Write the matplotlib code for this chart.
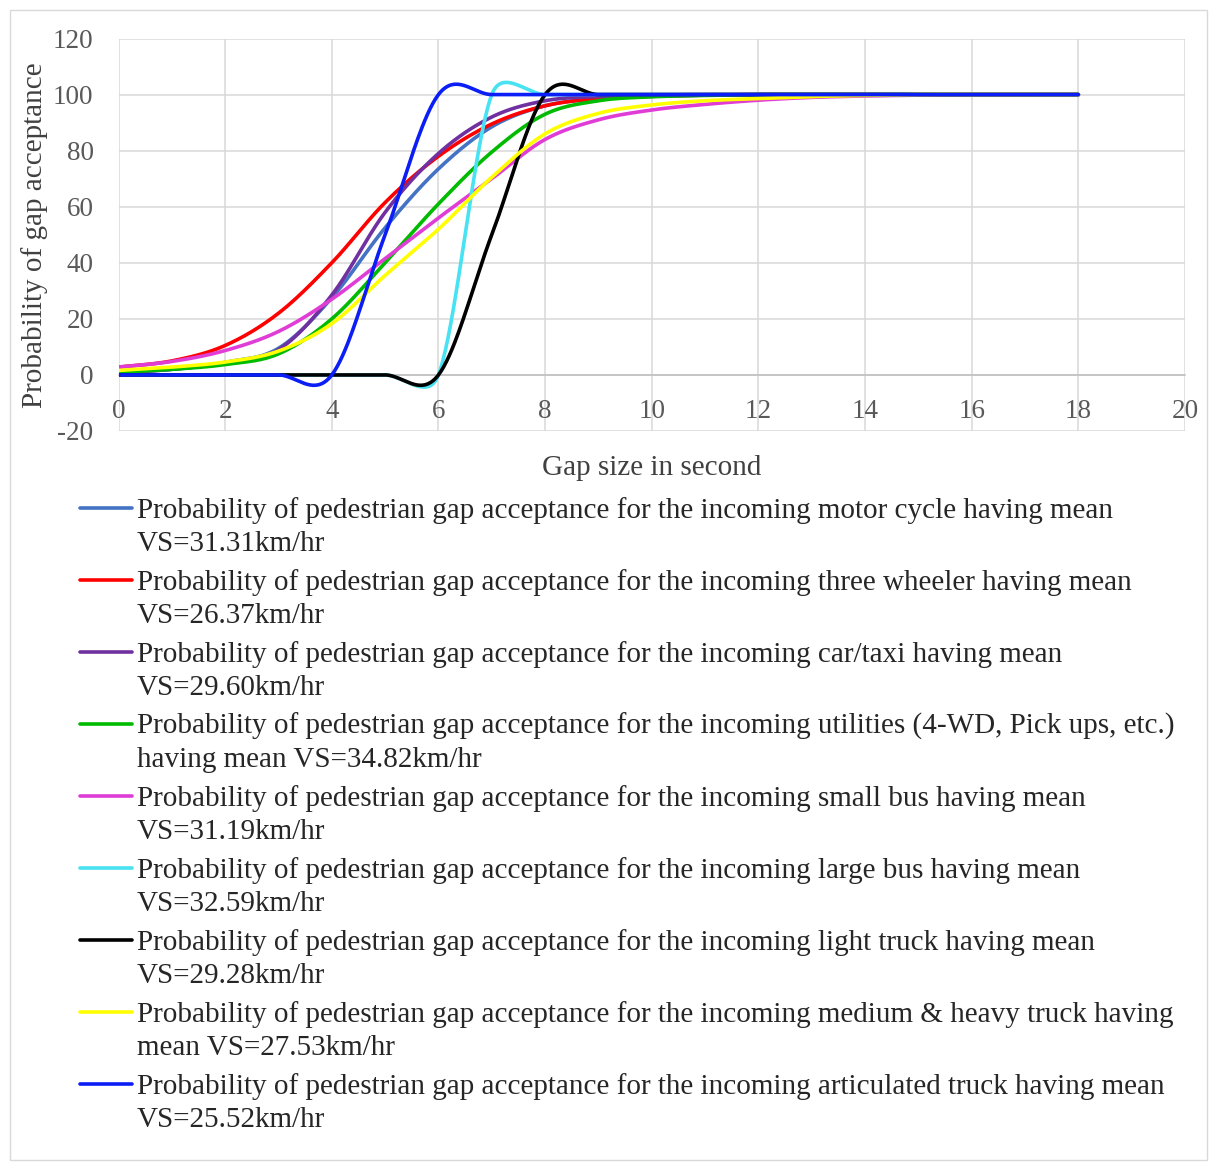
import numpy as np
import matplotlib
matplotlib.use("Agg")
import matplotlib.pyplot as plt
from matplotlib.lines import Line2D
from matplotlib.patches import Rectangle
from matplotlib.ticker import FuncFormatter

plt.rcParams['font.family'] = ['Liberation Serif', 'DejaVu Serif']

# gap sizes (s) and acceptance probability (%) per vehicle class
gap = [0, 1, 2, 3, 4, 5, 6, 7, 8, 9, 10, 11, 12, 13, 14, 15, 16, 17, 18]

motor_cycle = [0.8, 2.0, 4.5, 9.5, 27.5, 52.5, 73.5, 88.5, 96.0, 98.5, 99.4, 99.8, 100, 100, 100, 100, 100, 100, 100]
three_wheeler = [2.8, 5.0, 10.5, 22.0, 40.0, 61.5, 78.0, 89.5, 96.0, 98.6, 99.4, 99.8, 100, 100, 100, 100, 100, 100, 100]
car_taxi = [0.8, 2.0, 4.3, 9.0, 28.5, 58.0, 79.0, 92.0, 97.8, 99.3, 99.8, 100, 100, 100, 100, 100, 100, 100, 100]
utilities = [1.0, 2.0, 3.7, 7.5, 20.0, 40.0, 61.0, 79.5, 93.0, 97.8, 99.2, 99.7, 100, 100, 100, 100, 100, 100, 100]
small_bus = [2.8, 4.8, 8.7, 15.5, 27.0, 41.5, 56.0, 70.0, 84.0, 91.0, 94.5, 96.5, 98.0, 99.0, 99.5, 99.8, 100, 100, 100]
large_bus = [0, 0, 0, 0, 0, 0, 0, 100, 100, 100, 100, 100, 100, 100, 100, 100, 100, 100, 100]
light_truck = [0, 0, 0, 0, 0, 0, 0, 50, 100, 100, 100, 100, 100, 100, 100, 100, 100, 100, 100]
heavy_truck = [1.6, 2.8, 4.6, 8.5, 18.3, 35.5, 52.0, 70.5, 86.0, 93.3, 96.3, 97.8, 98.6, 99.3, 99.7, 100, 100, 100, 100]
artic_truck = [0, 0, 0, 0, 0, 50, 100, 100, 100, 100, 100, 100, 100, 100, 100, 100, 100, 100, 100]

series = [motor_cycle, three_wheeler, car_taxi, utilities, small_bus,
          large_bus, light_truck, heavy_truck, artic_truck]
colors = ['#4472C4', '#FF0000', '#7030A0', '#00BB00', '#E03CD6',
          '#48E2F2', '#000000', '#FFFF00', '#0A1EF5']
labels = [
    "Probability of pedestrian gap acceptance for the incoming motor cycle having mean\nVS=31.31km/hr",
    "Probability of pedestrian gap acceptance for the incoming three wheeler having mean\nVS=26.37km/hr",
    "Probability of pedestrian gap acceptance for the incoming car/taxi having mean\nVS=29.60km/hr",
    "Probability of pedestrian gap acceptance for the incoming utilities (4-WD, Pick ups, etc.)\nhaving mean VS=34.82km/hr",
    "Probability of pedestrian gap acceptance for the incoming small bus having mean\nVS=31.19km/hr",
    "Probability of pedestrian gap acceptance for the incoming large bus having mean\nVS=32.59km/hr",
    "Probability of pedestrian gap acceptance for the incoming light truck having mean\nVS=29.28km/hr",
    "Probability of pedestrian gap acceptance for the incoming medium & heavy truck having\nmean VS=27.53km/hr",
    "Probability of pedestrian gap acceptance for the incoming articulated truck having mean\nVS=25.52km/hr",
]


def smooth(xs, ys, sx, sy, n=40):
    """Spreadsheet-style smoothed line: cubic Bezier pieces through every point,
    tangents from the neighbours, shortened on short segments."""
    P = np.column_stack([np.asarray(xs, float) * sx, np.asarray(ys, float) * sy])
    m = len(P)
    t = np.linspace(0, 1, n)[:, None]
    pieces = []
    for i in range(m - 1):
        p0, p1, p2, p3 = P[max(i - 1, 0)], P[i], P[i + 1], P[min(i + 2, m - 1)]
        seg = np.hypot(*(p2 - p1))
        d1 = (p2 - p0) / 6.0
        d2 = (p3 - p1) / 6.0
        cap = 0.55 * seg
        for d in (d1, d2):
            nd = np.hypot(*d)
            if nd > cap:
                d *= cap / nd
        c1, c2 = p1 + d1, p2 - d2
        b = (1 - t) ** 3 * p1 + 3 * (1 - t) ** 2 * t * c1 + 3 * (1 - t) * t ** 2 * c2 + t ** 3 * p2
        pieces.append(b if i == 0 else b[1:])
    out = np.vstack(pieces)
    return out[:, 0] / sx, out[:, 1] / sy


W, H = 1217, 1169
fig = plt.figure(figsize=(W / 100, H / 100), dpi=100)
fig.patch.set_facecolor('white')

# outer chart border
fig.add_artist(Rectangle((10 / W, 9 / H), 1197 / W, 1150 / H, transform=fig.transFigure,
                         fill=False, edgecolor='#D9D9D9', linewidth=1.0))

left, right, top, bottom = 118.5, 1185, 38.5, 431
ax = fig.add_axes([left / W, 1 - bottom / H, (right - left) / W, (bottom - top) / H])
ax.set_xlim(0, 20)
ax.set_ylim(-20, 120)

# pixel scale of one data unit, used for the smoothing
sx = (right - left) / 20
sy = (bottom - top) / 140

for ys, c in zip(series, colors):
    xx, yy = smooth(gap, ys, sx, sy)
    ax.plot(xx, yy, color=c, linewidth=2.6, solid_capstyle='round', zorder=3)

ax.set_xticks(range(0, 21, 2))
ax.set_yticks(range(-20, 121, 20))
ax.yaxis.set_major_formatter(FuncFormatter(lambda v, p: f"{int(v)}"))
ax.grid(True, color='#D9D9D9', linewidth=1.1, zorder=0)
for s in ('top', 'right', 'left'):
    ax.spines[s].set_visible(False)
ax.spines['bottom'].set_position(('data', 0))
ax.spines['bottom'].set_color('#BFBFBF')
ax.spines['bottom'].set_linewidth(1.1)
ax.tick_params(length=0, labelsize=19.5, labelcolor='#595959')
ax.tick_params(axis='x', pad=17)
ax.tick_params(axis='y', pad=18)
ax.set_axisbelow(True)

fig.text(652 / W, 1 - 468 / H, "Gap size in second", ha='center', va='center',
         fontsize=21, color='#404040')
fig.text(35 / W, 1 - 235 / H, "Probability of gap acceptance", ha='center', va='center',
         rotation=90, fontsize=21, color='#404040')

# legend below the plot, one entry per vehicle class
y0, step = 508, 72
for k, (lab, c) in enumerate(zip(labels, colors)):
    yk = y0 + k * step
    fig.add_artist(Line2D([80 / W, 132 / W], [1 - yk / H, 1 - yk / H], transform=fig.transFigure,
                          color=c, linewidth=2.6, solid_capstyle='round'))
    fig.text(137 / W, 1 - (yk - 11) / H, lab, ha='left', va='top', fontsize=21,
             color='#262626', linespacing=1.34)

fig.savefig("out.png", dpi=100, facecolor='white')
